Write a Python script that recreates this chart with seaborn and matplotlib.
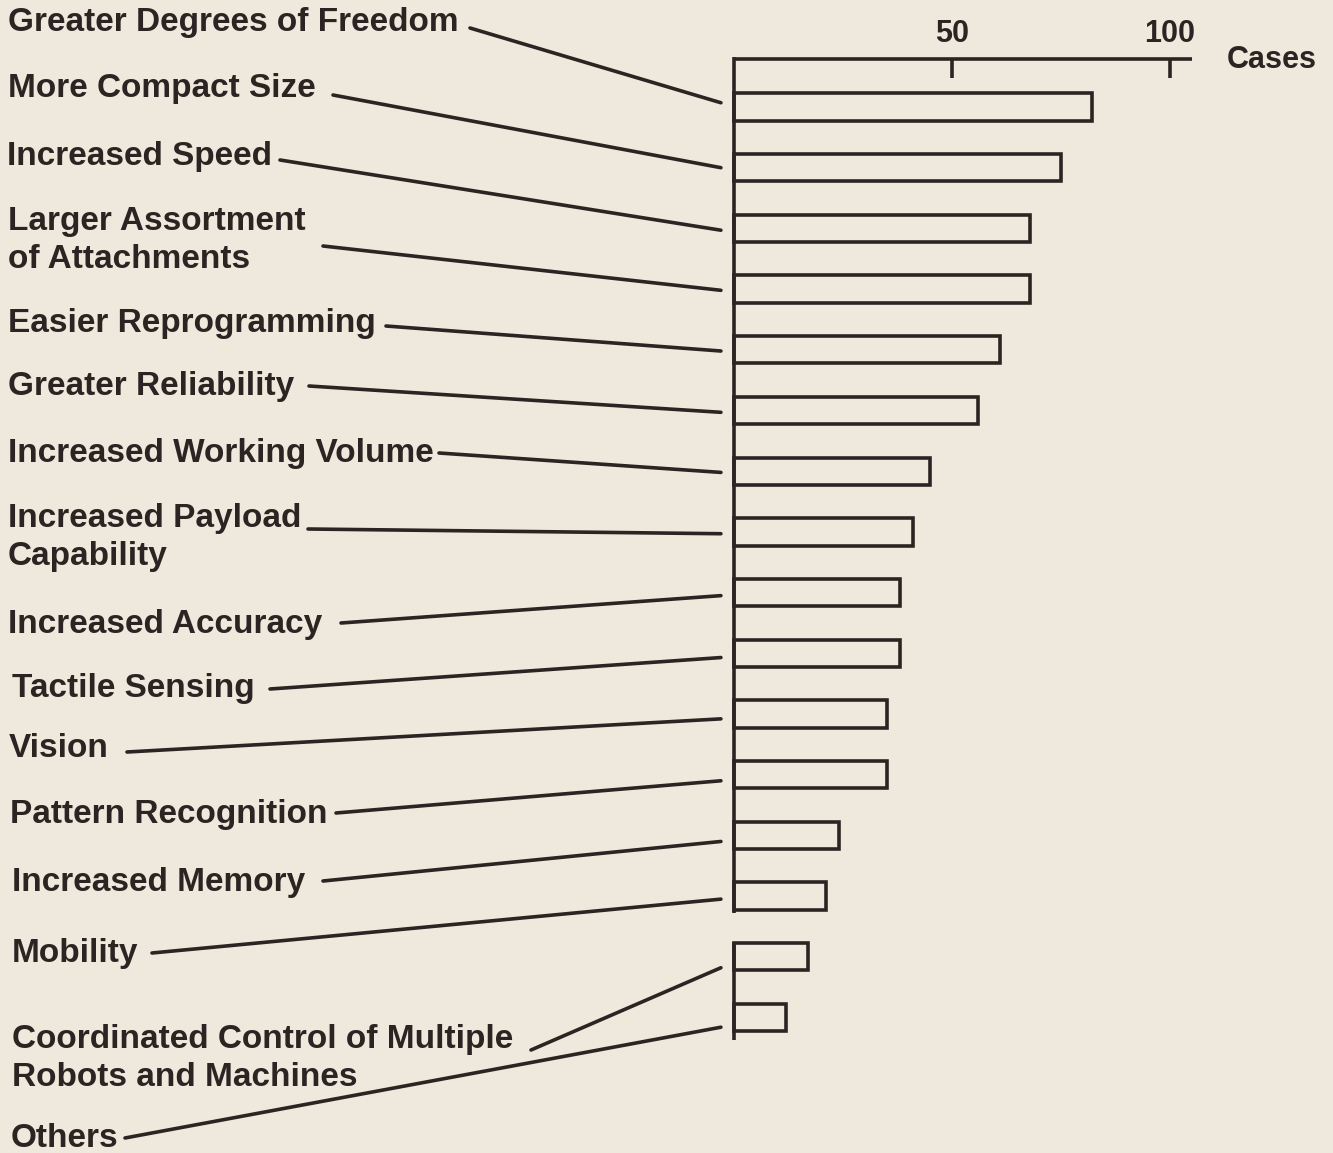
import pandas as pd
import matplotlib.pyplot as plt
import seaborn as sns

# data
REASONS = [
    "Greater Degrees of Freedom",
    "More Compact Size",
    "Increased Speed",
    "Larger Assortment\nof Attachments",
    "Easier Reprogramming",
    "Greater Reliability",
    "Increased Working Volume",
    "Increased Payload\nCapability",
    "Increased Accuracy",
    "Tactile Sensing",
    "Vision",
    "Pattern Recognition",
    "Increased Memory",
    "Mobility",
    "Coordinated Control of Multiple\nRobots and Machines",
    "Others",
]
CASES = [82, 75, 68, 68, 61, 56, 45, 41, 38, 38, 35, 35, 24, 21, 17, 12]
TICKS = [50, 100]
UNIT = "Cases"

# layout (pixels of the 1333x1153 picture)
W, H = 1333, 1153
X0_PX, X_SCALE = 734, 4.36      # px of 0 cases, px per case
Y0_PX, Y_STEP = 107, 60.7       # px of first bar centre, px between bars
LABEL_X = [8, 8, 7, 8, 8, 8, 8, 8, 8, 12, 9, 10, 12, 12, 12, 11]
LABEL_BASE = [31, 97, 165, 230, 332, 395, 462, 527, 633, 697, 757, 823, 891, 962, 1048, 1147]
LEAD_START = [(470, 28), (333, 95), (280, 160), (323, 246), (386, 326), (309, 386),
              (439, 453), (308, 529), (341, 623), (270, 689), (127, 752), (336, 813),
              (323, 881), (152, 953), (531, 1050), (125, 1138)]
LEAD_DY = [-0.07, 0.0, 0.03, 0.02, 0.02, 0.03, 0.02, 0.03, 0.05, 0.07, 0.08, 0.1,
           0.1, 0.05, 0.18, 0.16]

BG = "#eee9dc"
INK = "#2a2523"
LW = 2.6


def px_x(px):
    return (px - X0_PX) / X_SCALE


def px_y(py):
    return (py - Y0_PX) / Y_STEP


sns.set_theme(style="white")
plt.rcParams["font.family"] = ["Liberation Sans", "DejaVu Sans"]

df = pd.DataFrame({"reason": REASONS, "cases": CASES})

fig = plt.figure(figsize=(W / 100, H / 100), dpi=100)
fig.patch.set_facecolor(BG)
ax = fig.add_axes([0, 0, 1, 1])
ax.set_facecolor(BG)

sns.barplot(data=df, x="cases", y="reason", orient="h", order=REASONS,
            color=BG, edgecolor=INK, linewidth=LW, width=0.45,
            saturation=1, ax=ax)

# hand drawn axis: top scale line with ticks, broken left line
ax.hlines(px_y(59), 0, 105, color=INK, lw=LW)
ax.vlines(TICKS, px_y(59), px_y(78), color=INK, lw=LW)
ax.vlines([0, 0], [px_y(57), px_y(942)], [px_y(913), px_y(1040)], color=INK, lw=LW)
for t in TICKS:
    ax.text(t, px_y(42), str(t), ha="center", va="baseline",
            fontsize=22, fontweight="bold", color=INK)
ax.text(px_x(1227), px_y(68), UNIT, ha="left", va="baseline",
        fontsize=22, fontweight="bold", color=INK)

# labels and leader lines
for i, label in enumerate(REASONS):
    for k, line in enumerate(label.split("\n")):
        ax.text(px_x(LABEL_X[i]), px_y(LABEL_BASE[i] + 38 * k), line,
                ha="left", va="baseline", fontsize=24, fontweight="bold",
                color=INK)
    sx, sy = LEAD_START[i]
    ax.plot([px_x(sx), -3], [px_y(sy), i + LEAD_DY[i]], color=INK, lw=LW,
            solid_capstyle="round")

ax.set_xlim(px_x(0), px_x(W))
ax.set_ylim(px_y(H), px_y(0))
ax.axis("off")

fig.savefig("out.png", dpi=100, facecolor=BG)
